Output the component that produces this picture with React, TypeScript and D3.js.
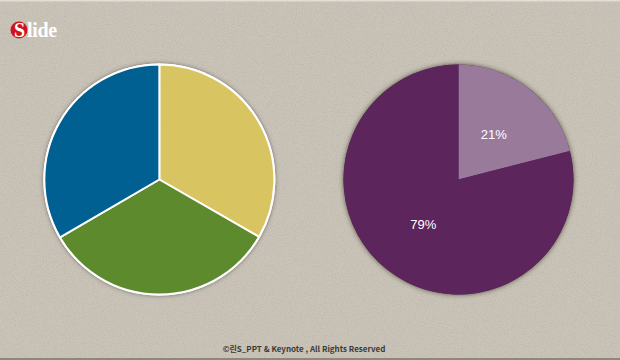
import React from "react";
import * as d3 from "d3";

const W = 620;
const H = 360;

const leftCategories = ["A", "B", "C"];
const leftValues = [33.3, 33.3, 33.4];
const leftColors = ["#d8c562", "#5d8a2c", "#006092"];

const rightCategories = ["21%", "79%"];
const rightValues = [21, 79];
const rightColors = ["#9a7a9b", "#5c255c"];

const footerText = "©린S_PPT & Keynote , All Rights Reserved";

export default function App() {
  const r = 115;
  const pie = d3.pie<number>().sort(null).value((d) => d);
  const arcGen = d3.arc<d3.PieArcDatum<number>>().innerRadius(0).outerRadius(r);
  const leftArcs = pie(leftValues);
  const rightArcs = pie(rightValues);
  const xScale = d3.scaleLinear().domain([0, 1]).range([0, W]);
  const leftCx = xScale(0.257);
  const rightCx = xScale(0.7395);
  const cy = 179.5;

  return (
    <svg
      width={W}
      height={H}
      style={{ position: "absolute", left: 0, top: 0, display: "block" }}
    >
      <defs>
        <filter id="shadowL" x="-20%" y="-20%" width="140%" height="140%">
          <feGaussianBlur in="SourceAlpha" stdDeviation="2" />
          <feOffset dx="0" dy="0" result="b" />
          <feFlood floodColor="#4a4640" floodOpacity="0.7" />
          <feComposite in2="b" operator="in" />
          <feMerge>
            <feMergeNode />
            <feMergeNode in="SourceGraphic" />
          </feMerge>
        </filter>
        <filter id="shadowR" x="-20%" y="-20%" width="140%" height="140%">
          <feGaussianBlur in="SourceAlpha" stdDeviation="2.5" />
          <feOffset dx="0" dy="0" result="b" />
          <feFlood floodColor="#3c3a22" floodOpacity="0.85" />
          <feComposite in2="b" operator="in" />
          <feMerge>
            <feMergeNode />
            <feMergeNode in="SourceGraphic" />
          </feMerge>
        </filter>
        <filter id="paper">
          <feTurbulence type="fractalNoise" baseFrequency="0.9" numOctaves="2" seed="3" />
          <feColorMatrix
            type="matrix"
            values="0 0 0 0 0.3  0 0 0 0 0.28  0 0 0 0 0.25  0 0 0 -1.6 0.9"
          />
          <feComposite in2="SourceGraphic" operator="in" />
        </filter>
      </defs>
      <rect x={0} y={0} width={W} height={H} fill="#c9c3b8" />
      <rect x={0} y={0} width={W} height={H} fill="#c9c3b8" filter="url(#paper)" opacity={0.35} />
      <rect x={0} y={0} width={W} height={1.5} fill="#e2ded6" />
      <rect x={0} y={H - 2} width={W} height={2} fill="#8d877c" />

      {/* logo */}
      <circle cx={19} cy={30} r={8.5} fill="#d1141b" />
      <text
        x={19.5}
        y={37}
        textAnchor="middle"
        fill="#ffffff"
        fontFamily="Liberation Serif, serif"
        fontWeight="bold"
        fontSize={20}
      >
        S
      </text>
      <text
        x={27}
        y={37}
        fill="#ffffff"
        fontFamily="Liberation Serif, serif"
        fontWeight="bold"
        fontSize={20}
        letterSpacing={-0.3}
      >
        lide
      </text>

      {/* left pie */}
      <g transform={`translate(${leftCx},${cy})`}>
        <circle r={r + 1} fill="#ffffff" filter="url(#shadowL)" />
        {leftArcs.map((a, i) => (
          <path
            key={leftCategories[i]}
            d={arcGen(a) || ""}
            fill={leftColors[i]}
            stroke="#ffffff"
            strokeWidth={2}
            strokeLinejoin="round"
          />
        ))}
      </g>

      {/* right pie */}
      <g transform={`translate(${rightCx},${cy})`}>
        <circle r={r} fill={rightColors[1]} filter="url(#shadowR)" />
        {rightArcs.map((a, i) => (
          <path key={rightCategories[i]} d={arcGen(a) || ""} fill={rightColors[i]} />
        ))}
        {rightArcs.map((a, i) => {
          const [x, y] = arcGen.centroid(a);
          return (
            <text
              key={"l" + rightCategories[i]}
              x={x}
              y={y}
              dy="0.35em"
              textAnchor="middle"
              fill="#ffffff"
              fontFamily="Liberation Sans, Arial, sans-serif"
              fontSize={13}
            >
              {rightCategories[i]}
            </text>
          );
        })}
      </g>

      <text
        x={304}
        y={352}
        textAnchor="middle"
        fill="#3d3a36"
        fontFamily="Noto Sans CJK KR, DejaVu Sans, sans-serif"
        fontWeight="bold"
        fontSize={8}
      >
        {footerText}
      </text>
    </svg>
  );
}
